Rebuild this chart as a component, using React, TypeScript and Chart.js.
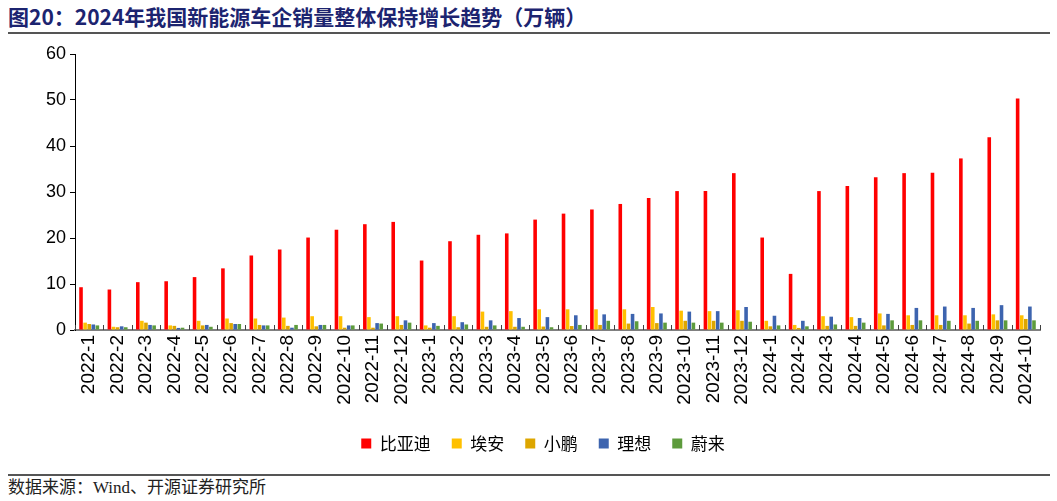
import React, { useEffect, useRef } from "react";
import { Chart, registerables } from "chart.js";

Chart.register(...registerables);

const categories = [
  "2022-1", "2022-2", "2022-3", "2022-4", "2022-5", "2022-6", "2022-7", "2022-8", "2022-9", "2022-10", "2022-11", "2022-12",
  "2023-1", "2023-2", "2023-3", "2023-4", "2023-5", "2023-6", "2023-7", "2023-8", "2023-9", "2023-10", "2023-11", "2023-12",
  "2024-1", "2024-2", "2024-3", "2024-4", "2024-5", "2024-6", "2024-7", "2024-8", "2024-9", "2024-10",
];

const byd = [
  9.3, 8.8, 10.4, 10.6, 11.5, 13.4, 16.2, 17.5, 20.1, 21.8, 23.0, 23.5,
  15.1, 19.3, 20.7, 21.0, 24.0, 25.3, 26.2, 27.4, 28.7, 30.2, 30.2, 34.1,
  20.1, 12.2, 30.2, 31.3, 33.2, 34.1, 34.2, 37.3, 41.9, 50.3,
];
const aion = [
  1.6, 0.7, 2.0, 1.0, 2.0, 2.5, 2.5, 2.7, 3.0, 3.0, 2.8, 3.0,
  1.0, 3.0, 4.0, 4.1, 4.5, 4.5, 4.5, 4.5, 5.0, 4.2, 4.1, 4.3,
  2.0, 1.1, 3.0, 2.8, 3.6, 3.2, 3.2, 3.2, 3.4, 3.2,
];
const xpeng = [
  1.3, 0.6, 1.6, 0.9, 1.0, 1.5, 1.1, 0.9, 0.8, 0.5, 0.5, 1.1,
  0.5, 0.6, 0.7, 0.7, 0.75, 0.86, 1.1, 1.4, 1.5, 2.0, 2.0, 2.0,
  0.8, 0.45, 0.9, 0.9, 1.0, 1.1, 1.1, 1.4, 2.1, 2.4,
];
const liAuto = [
  1.2, 0.8, 1.1, 0.45, 1.1, 1.3, 1.0, 0.5, 1.1, 1.0, 1.5, 2.1,
  1.5, 1.7, 2.1, 2.6, 2.8, 3.2, 3.4, 3.5, 3.6, 4.0, 4.1, 5.0,
  3.1, 2.0, 2.9, 2.6, 3.5, 4.8, 5.1, 4.8, 5.4, 5.1,
];
const nio = [
  1.0, 0.6, 1.0, 0.5, 0.7, 1.3, 1.0, 1.1, 1.1, 1.0, 1.4, 1.6,
  0.9, 1.2, 1.0, 0.7, 0.6, 1.1, 2.0, 1.9, 1.6, 1.6, 1.6, 1.8,
  1.0, 0.8, 1.2, 1.6, 2.1, 2.1, 2.0, 2.0, 2.1, 2.1,
];

const seriesNames = ["比亚迪", "埃安", "小鹏", "理想", "蔚来"];
const seriesColors = ["#FF0000", "#FFC000", "#DDA600", "#3D64AF", "#5D9B3C"];
const yTicks = { min: 0, max: 60, step: 10 };

const innerTicks = {
  id: "innerTicks",
  afterDatasetsDraw(chart: any) {
    const x = chart.scales.x;
    const ctx = chart.ctx;
    const n = categories.length;
    ctx.save();
    ctx.strokeStyle = "#404040";
    ctx.lineWidth = 1;
    for (let i = 0; i <= n; i++) {
      const px = Math.round(x.left + (i * (x.right - x.left)) / n) + 0.5;
      ctx.beginPath();
      ctx.moveTo(px, x.top);
      ctx.lineTo(px, x.top - 5);
      ctx.stroke();
    }
    ctx.restore();
  },
};

export default function App() {
  const ref = useRef<HTMLCanvasElement | null>(null);

  useEffect(() => {
    if (!ref.current) return;
    const values = [byd, aion, xpeng, liAuto, nio];
    const chart = new Chart(ref.current, {
      type: "bar",
      data: {
        labels: categories,
        datasets: seriesNames.map((name, i) => ({
          label: name,
          data: values[i],
          backgroundColor: seriesColors[i],
          borderWidth: 0,
          categoryPercentage: 0.72,
          barPercentage: 0.88,
        })),
      },
      options: {
        animation: false,
        responsive: false,
        maintainAspectRatio: false,
        layout: { padding: { left: 46, right: 17, top: 16, bottom: 8 } },
        plugins: {
          tooltip: { enabled: false },
          legend: {
            position: "bottom",
            labels: {
              boxWidth: 10,
              boxHeight: 10,
              padding: 21,
              color: "#000",
              font: { size: 17, family: "'Noto Sans CJK SC'" },
            },
          },
        },
        scales: {
          x: {
            grid: { drawOnChartArea: false, drawTicks: false },
            border: { display: true, color: "#808080", width: 2 },
            ticks: {
              autoSkip: false,
              maxRotation: 90,
              minRotation: 90,
              padding: 5,
              color: "#000",
              font: { size: 19, family: "'Liberation Sans', Arial" },
            },
            afterFit(s: any) {
              s.height = 84;
            },
          },
          y: {
            min: yTicks.min,
            max: yTicks.max,
            ticks: {
              stepSize: yTicks.step,
              padding: 4,
              color: "#000",
              font: { size: 18, family: "'Liberation Sans', Arial" },
            },
            grid: { drawOnChartArea: false, drawTicks: true, tickLength: 5, color: "#000" },
            border: { color: "#000", width: 1 },
            afterFit(s: any) {
              s.width = 29;
            },
          },
        },
      },
      plugins: [innerTicks],
    });
    return () => chart.destroy();
  }, []);

  return (
    <div style={{ position: "absolute", left: 0, top: 0, width: 1057, height: 501, background: "#fff", overflow: "hidden" }}>
      <div
        style={{
          position: "absolute",
          left: 8,
          top: 3,
          fontFamily: "'Noto Sans CJK SC', sans-serif",
          fontWeight: 700,
          fontSize: 21,
          lineHeight: "26px",
          color: "#1C2470",
          whiteSpace: "nowrap",
        }}
      >
        图20：2024年我国新能源车企销量整体保持增长趋势（万辆）
      </div>
      <div style={{ position: "absolute", left: 8, top: 32, width: 1042, height: 2, background: "#555" }} />
      <canvas ref={ref} width={1057} height={432} style={{ position: "absolute", left: 0, top: 38, width: 1057, height: 432 }} />
      <div style={{ position: "absolute", left: 8, top: 474, width: 1042, height: 2, background: "#555" }} />
      <div
        style={{
          position: "absolute",
          left: 8,
          top: 478,
          fontFamily: "'Liberation Serif', 'Noto Sans CJK SC', serif",
          fontSize: 17,
          lineHeight: "20px",
          color: "#222",
          whiteSpace: "nowrap",
        }}
      >
        数据来源：Wind、开源证券研究所
      </div>
    </div>
  );
}
